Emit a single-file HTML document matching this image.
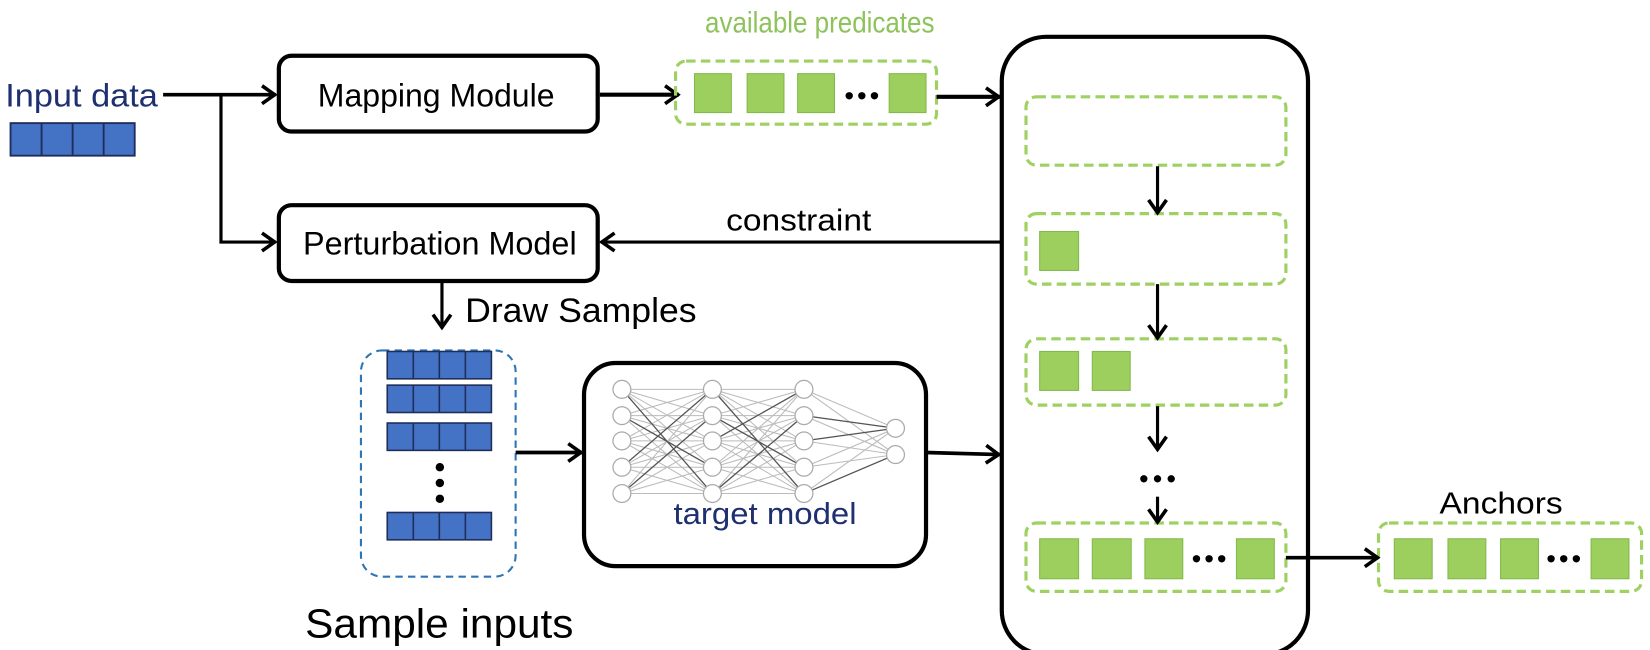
<!DOCTYPE html>
<html><head><meta charset="utf-8"><style>html,body{margin:0;padding:0;background:#fff}svg{display:block}</style></head>
<body>
<svg width="1650" height="650" viewBox="0 0 1568 617.7" preserveAspectRatio="none" xmlns="http://www.w3.org/2000/svg" font-family="Liberation Sans, Arial, sans-serif">
<defs>
<marker id="a2" viewBox="0 0 20 20" refX="18" refY="10" markerWidth="20" markerHeight="20" markerUnits="userSpaceOnUse" orient="auto">
<path d="M5 1.5L17 10L5 18.5" fill="none" stroke="#000" stroke-width="3.4"/></marker>
<g id="cells4">
<rect x="0" y="0" width="100" height="26" fill="#4472c4" stroke="#1f2d5a" stroke-width="1.5"/>
<path d="M25 0V26M50 0V26M75 0V26" stroke="#1f2d5a" stroke-width="1.5"/>
</g>
<g id="l12" fill="none" stroke="#bbb" stroke-width="1">
<path d="M591 370L677 370M591 370L677 395M591 370L677 419M591 370L677 444M591 370L677 469M591 395L677 370M591 395L677 395M591 395L677 419M591 395L677 444M591 395L677 469M591 419L677 370M591 419L677 395M591 419L677 419M591 419L677 444M591 419L677 469M591 444L677 370M591 444L677 395M591 444L677 419M591 444L677 444M591 444L677 469M591 469L677 370M591 469L677 395M591 469L677 419M591 469L677 444M591 469L677 469"/>
</g>
</defs>

<text x="5" y="101" font-size="31" fill="#1f3070" textLength="145" lengthAdjust="spacingAndGlyphs">Input data</text>
<use href="#cells4" transform="translate(10,117) scale(1.18,1.19)"/>

<path d="M155 90H262" stroke="#000" stroke-width="3.5" fill="none" marker-end="url(#a2)"/>
<path d="M210 90V230H262" stroke="#000" stroke-width="3" fill="none" marker-end="url(#a2)"/>

<rect x="265" y="53" width="303" height="72" rx="12" fill="#fff" stroke="#000" stroke-width="4"/>
<text x="302" y="101" font-size="31" textLength="225" lengthAdjust="spacingAndGlyphs">Mapping Module</text>
<rect x="265" y="195" width="303" height="72" rx="12" fill="#fff" stroke="#000" stroke-width="4"/>
<text x="288" y="242" font-size="31" textLength="260" lengthAdjust="spacingAndGlyphs">Perturbation Model</text>

<path d="M570 90H645" stroke="#000" stroke-width="4" fill="none" marker-end="url(#a2)"/>

<text x="670" y="31" font-size="28" fill="#8dc35a" textLength="218" lengthAdjust="spacingAndGlyphs">available predicates</text>
<rect x="642" y="58" width="248" height="60" rx="10" fill="none" stroke="#9fd162" stroke-width="3" stroke-dasharray="9 5"/>
<g fill="#9ccf5e" stroke="#82b94a" stroke-width="1">
<rect x="660" y="70" width="35" height="37"/><rect x="710" y="70" width="35" height="37"/><rect x="758" y="70" width="35" height="37"/><rect x="845" y="70" width="35" height="37"/>
</g>
<g fill="#000"><circle cx="807" cy="91" r="3.5"/><circle cx="819" cy="91" r="3.5"/><circle cx="831" cy="91" r="3.5"/></g>
<path d="M890 92H950" stroke="#000" stroke-width="4" fill="none" marker-end="url(#a2)"/>

<rect x="952" y="35" width="291" height="587" rx="42" fill="none" stroke="#000" stroke-width="4"/>
<g fill="none" stroke="#9fd162" stroke-width="3" stroke-dasharray="9 5">
<rect x="975" y="92" width="247" height="65" rx="10"/>
<rect x="975" y="203" width="247" height="67" rx="10"/>
<rect x="975" y="322" width="247" height="63" rx="10"/>
<rect x="975" y="497" width="247" height="65" rx="10"/>
<rect x="1310" y="497" width="250" height="65" rx="10"/>
</g>
<g fill="#9ccf5e" stroke="#82b94a" stroke-width="1">
<rect x="988" y="220" width="37" height="37"/>
<rect x="988" y="334" width="37" height="37"/><rect x="1038" y="334" width="36" height="37"/>
<rect x="988" y="512" width="37" height="38"/><rect x="1038" y="512" width="37" height="38"/><rect x="1088" y="512" width="36" height="38"/><rect x="1175" y="512" width="36" height="38"/>
<rect x="1325" y="512" width="36" height="38"/><rect x="1376" y="512" width="36" height="38"/><rect x="1426" y="512" width="36" height="38"/><rect x="1512" y="512" width="36" height="38"/>
</g>
<g fill="#000">
<circle cx="1137" cy="531" r="3.5"/><circle cx="1149" cy="531" r="3.5"/><circle cx="1161" cy="531" r="3.5"/>
<circle cx="1474" cy="531" r="3.5"/><circle cx="1486" cy="531" r="3.5"/><circle cx="1498" cy="531" r="3.5"/>
<circle cx="1087" cy="455" r="3.5"/><circle cx="1100" cy="455" r="3.5"/><circle cx="1113" cy="455" r="3.5"/>
</g>
<g stroke="#000" stroke-width="3" fill="none" marker-end="url(#a2)">
<path d="M1100 158V203"/><path d="M1100 270V322"/><path d="M1100 386V428"/><path d="M1100 472V497"/>
</g>
<path d="M1222 530H1310" stroke="#000" stroke-width="3.5" fill="none" marker-end="url(#a2)"/>
<text x="1368" y="488" font-size="29" textLength="117" lengthAdjust="spacingAndGlyphs">Anchors</text>

<path d="M952 230H571" stroke="#000" stroke-width="3" fill="none" marker-end="url(#a2)"/>
<text x="690" y="219" font-size="29" textLength="138" lengthAdjust="spacingAndGlyphs">constraint</text>

<path d="M420 268V312" stroke="#000" stroke-width="3" fill="none" marker-end="url(#a2)"/>
<text x="442" y="306" font-size="33" textLength="220" lengthAdjust="spacingAndGlyphs">Draw Samples</text>

<rect x="343" y="333" width="147" height="215" rx="20" fill="none" stroke="#2e75b6" stroke-width="2" stroke-dasharray="7 5"/>
<use href="#cells4" transform="translate(368,334) scale(0.99,1)"/>
<use href="#cells4" transform="translate(368,366) scale(0.99,1)"/>
<use href="#cells4" transform="translate(368,402) scale(0.99,1)"/>
<use href="#cells4" transform="translate(368,487) scale(0.99,1)"/>
<g fill="#000"><circle cx="418" cy="444" r="4"/><circle cx="418" cy="459" r="4"/><circle cx="418" cy="474" r="4"/></g>
<text x="290" y="606" font-size="39" textLength="255" lengthAdjust="spacingAndGlyphs">Sample inputs</text>

<path d="M490 430H553" stroke="#000" stroke-width="3.5" fill="none" marker-end="url(#a2)"/>

<rect x="555" y="345" width="325" height="193" rx="30" fill="#fff" stroke="#000" stroke-width="4"/>
<use href="#l12"/>
<use href="#l12" transform="translate(86.5,0)"/>
<g fill="none" stroke="#bbb" stroke-width="1">
<path d="M764 370L851 407M764 395L851 407M764 419L851 407M764 444L851 407M764 469L851 407M764 370L851 432M764 395L851 432M764 419L851 432M764 444L851 432M764 469L851 432"/>
</g>
<g fill="none" stroke="#555" stroke-width="1.2">
<path d="M591 370L677 469M591 444L677 370M591 395L677 444M591 469L677 395M677 370L764 469M677 419L764 370M677 395L764 444M677 469L764 395M764 419L851 407M764 469L851 432M764 395L851 407"/>
</g>
<g fill="#fff" stroke="#aaa" stroke-width="1.2">
<circle cx="591" cy="370" r="8.5"/><circle cx="591" cy="395" r="8.5"/><circle cx="591" cy="419" r="8.5"/><circle cx="591" cy="444" r="8.5"/><circle cx="591" cy="469" r="8.5"/>
<circle cx="677" cy="370" r="8.5"/><circle cx="677" cy="395" r="8.5"/><circle cx="677" cy="419" r="8.5"/><circle cx="677" cy="444" r="8.5"/><circle cx="677" cy="469" r="8.5"/>
<circle cx="764" cy="370" r="8.5"/><circle cx="764" cy="395" r="8.5"/><circle cx="764" cy="419" r="8.5"/><circle cx="764" cy="444" r="8.5"/><circle cx="764" cy="469" r="8.5"/>
<circle cx="851" cy="407" r="8.5"/><circle cx="851" cy="432" r="8.5"/>
</g>
<text x="640" y="498" font-size="29" fill="#1f3070" textLength="174" lengthAdjust="spacingAndGlyphs">target model</text>

<path d="M880 430L950 432" stroke="#000" stroke-width="3.5" fill="none" marker-end="url(#a2)"/>
</svg>
</body></html>
